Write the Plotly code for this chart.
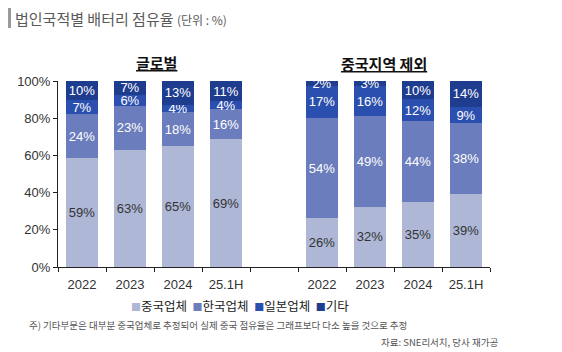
import plotly.graph_objects as go

years = ["2022", "2023", "2024", "25.1H"]
series_names = ["중국업체", "한국업체", "일본업체", "기타"]
colors = ["#aeb7d6", "#6b7dbd", "#2b4fae", "#1f3d8f"]
text_colors = ["#333333", "#ffffff", "#ffffff", "#ffffff"]

# Global share (%)
global_china = [58.6, 63.1, 64.9, 68.6]
global_korea = [23.6, 23.3, 18.4, 16.4]
global_japan = [7.4, 6.3, 4.0, 4.0]
global_other = [10.4, 7.3, 12.7, 11.0]

# Excluding China region (%)
exch_china = [26.2, 32.3, 34.9, 39.4]
exch_korea = [53.9, 48.7, 43.6, 37.8]
exch_japan = [17.4, 16.4, 11.7, 8.9]
exch_other = [2.4, 2.6, 9.8, 13.9]

y_ticks = [0, 20, 40, 60, 80, 100]
y_tick_labels = ["0%", "20%", "40%", "60%", "80%", "100%"]

group_titles = ["글로벌", "중국지역 제외"]
title_text = "법인국적별 배터리 점유율"
unit_text = "(단위 : %)"
note_text = "주) 기타부문은 대부분 중국업체로 추정되어 실제 중국 점유율은 그래프보다 다소 높을 것으로 추정"
source_text = "자료: SNE리서치, 당사 재가공"

n = len(years)
x_global = list(range(n))
x_exch = [i + n + 1 for i in range(n)]
xs = x_global + x_exch

global_series = [global_china, global_korea, global_japan, global_other]
exch_series = [exch_china, exch_korea, exch_japan, exch_other]

fig = go.Figure()
for k, name in enumerate(series_names):
    vals = global_series[k] + exch_series[k]
    fig.add_trace(go.Bar(
        x=xs, y=vals, name=name,
        marker=dict(color=colors[k], line=dict(width=0)),
        width=0.67,
        texttemplate="%{y:.0f}%",
        textposition="inside",
        insidetextanchor="middle",
        textangle=0,
        textfont=dict(color=text_colors[k], size=13, family="Liberation Sans, Arial"),
        hoverinfo="skip",
        showlegend=False,
    ))

fig.update_layout(
    barmode="stack",
    width=562, height=352,
    margin=dict(l=58, r=72, t=81, b=85),
    plot_bgcolor="white", paper_bgcolor="white",
    uniformtext=dict(minsize=13, mode="show"),
    font=dict(family="Liberation Sans, Arial", color="#333333", size=13),
    showlegend=False,
)

fig.update_xaxes(
    range=[-0.5, 2 * n + 0.5],
    tickmode="array", tickvals=xs, ticktext=years + years,
    ticks="", showline=True, linecolor="#222222", linewidth=1,
    showgrid=False, zeroline=False,
    tickfont=dict(size=13, color="#333333"),
    ticklabelstandoff=5,
    minor=dict(tickmode="array", tickvals=[v - 0.5 for v in range(2 * n + 2)],
               ticks="outside", ticklen=4, tickcolor="#222222", tickwidth=1),
)
fig.update_yaxes(
    range=[0, 100], tickmode="array", tickvals=y_ticks, ticktext=y_tick_labels,
    ticks="outside", ticklen=4, tickcolor="#222222",
    showline=True, linecolor="#222222", linewidth=1,
    showgrid=False, zeroline=False,
    tickfont=dict(size=13, color="#333333"),
)

# Title bar decoration
fig.add_shape(type="rect", xref="paper", yref="paper",
              x0=-50/432, x1=-47/432, y0=1 + (81-28)/186, y1=1 + (81-8)/186,
              fillcolor="#9a9a9a", line=dict(width=0))
fig.add_annotation(xref="paper", yref="paper", x=-45/432, y=1 + (81-18)/186,
                   xanchor="left", yanchor="middle", showarrow=False,
                   text=f"{title_text} <span style='font-size:12px'>{unit_text}</span>",
                   font=dict(family="Noto Sans CJK KR", size=15, color="#595959"))

# Group titles
fig.add_annotation(xref="x", yref="paper", x=(x_global[0] + x_global[-1]) / 2 + 0.05,
                   y=1 + (81-62)/186, showarrow=False, yanchor="middle",
                   text=f"<b>{group_titles[0]}</b>",
                   font=dict(family="Noto Sans CJK KR", size=15, color="#111111", lineposition="under"))
fig.add_annotation(xref="x", yref="paper", x=(x_exch[0] + x_exch[-1]) / 2 - 0.2,
                   y=1 + (81-63)/186, showarrow=False, yanchor="middle",
                   text=f"<b>{group_titles[1]}</b>",
                   font=dict(family="Noto Sans CJK KR", size=15, color="#111111", lineposition="under"))

# Legend (colored squares + labels)
legend_text = "  ".join(
    f"<span style='color:{c}; font-size:10px'>■</span>{nm}" for c, nm in zip(colors, series_names)
)
fig.add_annotation(xref="paper", yref="paper", x=(240-58)/432, y=-(305-267)/186,
                   xanchor="center", yanchor="middle", showarrow=False,
                   text=legend_text,
                   font=dict(family="Noto Sans CJK KR", size=12.5, color="#222222"))

# Notes
fig.add_annotation(xref="paper", yref="paper", x=-31/432, y=-(325-267)/186,
                   xanchor="left", yanchor="middle", showarrow=False,
                   text=note_text,
                   font=dict(family="Noto Sans CJK KR", size=9.5, color="#555555"))
fig.add_annotation(xref="paper", yref="paper", x=(500-58)/432, y=-(342-267)/186,
                   xanchor="right", yanchor="middle", showarrow=False,
                   text=source_text,
                   font=dict(family="Noto Sans CJK KR", size=9.5, color="#555555"))

fig.write_html("out.html")
